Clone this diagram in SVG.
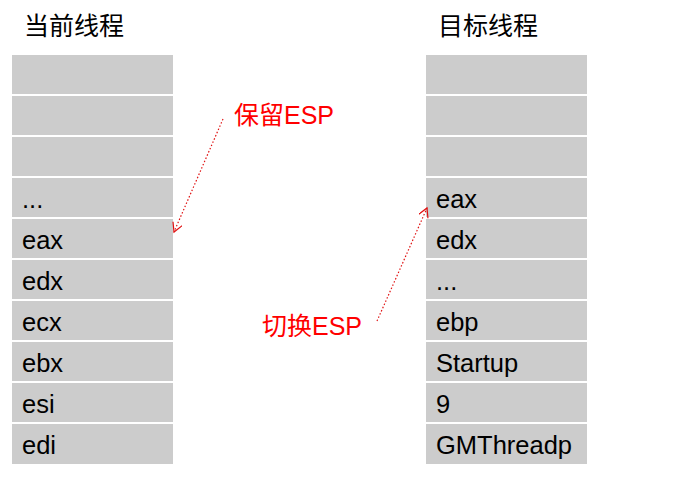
<svg xmlns="http://www.w3.org/2000/svg" width="691" height="477" viewBox="0 0 691 477">
<style>
.c{fill:#cccccc}
.t{font-family:"Liberation Sans","Noto Sans CJK SC",sans-serif;font-size:25.5px;fill:#000}
.h{font-family:"Liberation Sans","Noto Sans CJK SC",sans-serif;font-size:25px;fill:#000}
.r{font-family:"Liberation Sans","Noto Sans CJK SC",sans-serif;font-size:25px;fill:#ff0000}
.a{fill:none;stroke:#e01010;stroke-width:1.2;stroke-dasharray:1.5 2}
</style>
<defs><marker id="m" markerWidth="12" markerHeight="12" refX="10" refY="5" orient="auto" markerUnits="userSpaceOnUse"><path d="M1,0 L10,5 L1,10" fill="none" stroke="#e01010" stroke-width="1.2"/></marker></defs>
<rect width="691" height="477" fill="#fff"/>
<text class="h" x="24" y="35">当前线程</text>
<text class="h" x="438" y="35">目标线程</text>
<g id="left">
<rect class="c" x="12" y="55" width="161" height="39"/>
<rect class="c" x="12" y="96" width="161" height="39"/>
<rect class="c" x="12" y="137" width="161" height="39"/>
<rect class="c" x="12" y="178" width="161" height="39"/><text class="t" x="22" y="208">...</text>
<rect class="c" x="12" y="219" width="161" height="39"/><text class="t" x="22" y="249">eax</text>
<rect class="c" x="12" y="260" width="161" height="39"/><text class="t" x="22" y="290">edx</text>
<rect class="c" x="12" y="301" width="161" height="39"/><text class="t" x="22" y="331">ecx</text>
<rect class="c" x="12" y="342" width="161" height="39"/><text class="t" x="22" y="372">ebx</text>
<rect class="c" x="12" y="383" width="161" height="39"/><text class="t" x="22" y="413">esi</text>
<rect class="c" x="12" y="424" width="161" height="40"/><text class="t" x="22" y="454">edi</text>
</g>
<g id="right">
<rect class="c" x="426" y="55" width="161" height="39"/>
<rect class="c" x="426" y="96" width="161" height="39"/>
<rect class="c" x="426" y="137" width="161" height="39"/>
<rect class="c" x="426" y="178" width="161" height="39"/><text class="t" x="436" y="208">eax</text>
<rect class="c" x="426" y="219" width="161" height="39"/><text class="t" x="436" y="249">edx</text>
<rect class="c" x="426" y="260" width="161" height="39"/><text class="t" x="436" y="290">...</text>
<rect class="c" x="426" y="301" width="161" height="39"/><text class="t" x="436" y="331">ebp</text>
<rect class="c" x="426" y="342" width="161" height="39"/><text class="t" x="436" y="372">Startup</text>
<rect class="c" x="426" y="383" width="161" height="39"/><text class="t" x="436" y="413">9</text>
<rect class="c" x="426" y="424" width="161" height="40"/><text class="t" x="436" y="454">GMThreadp</text>
</g>
<text class="r" x="234" y="124">保留ESP</text>
<text class="r" x="262" y="335">切换ESP</text>
<g id="connectors">
<path class="a" d="M223,119 L174,232" marker-end="url(#m)"/>
<path class="a" d="M377,321 L427,208" marker-end="url(#m)"/>
</g>
</svg>
